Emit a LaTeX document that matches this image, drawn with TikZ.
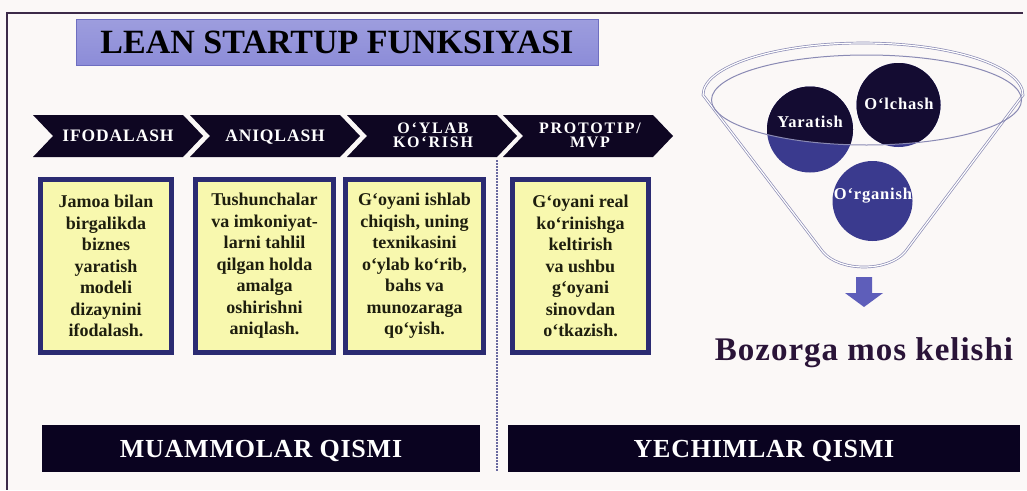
\documentclass[tikz,border=0pt]{standalone}
\usepackage{fontspec}
\setmainfont{Liberation Serif}
\newfontfamily\spcfont[LetterSpace=5]{Liberation Serif}
\newfontfamily\spcwide[LetterSpace=11]{Liberation Serif}
\newfontfamily\spcsmall[LetterSpace=3]{Liberation Serif}
\definecolor{bgcol}{HTML}{FBF8F7}
\definecolor{framecol}{HTML}{3C2A48}
\definecolor{titlefill}{HTML}{8C8CD8}
\definecolor{titledraw}{HTML}{6E6EC0}
\definecolor{chevcol}{HTML}{0E0622}
\definecolor{boxborder}{HTML}{2B2B72}
\definecolor{boxfill}{HTML}{F8F8AE}
\definecolor{boxtext}{HTML}{1E1E0E}
\definecolor{barcol}{HTML}{0A0320}
\definecolor{cdark}{HTML}{140C32}
\definecolor{cblue}{HTML}{3A3A8E}
\definecolor{funnelcol}{HTML}{8A8AB4}
\definecolor{arrowcol}{HTML}{5E5EBA}
\definecolor{bozcol}{HTML}{2A1438}
\definecolor{dotcol}{HTML}{6A6AA0}
\begin{document}
\begin{tikzpicture}[x=1pt,y=-1pt,
  chevshape/.style={fill=chevcol},
  chevtxt/.style={text=white, inner sep=0pt, font=\spcfont\bfseries\fontsize{17.5}{18}\selectfont, text height=11.6pt, text depth=0pt},
  chevtwo/.style={text=white, inner sep=0pt, align=center, font=\spcwide\bfseries\fontsize{16}{14.5}\selectfont},
  ybox/.style={draw=boxborder, line width=5pt, fill=boxfill, text=boxtext, align=center, inner sep=0pt,
     minimum height=173pt, font=\bfseries\fontsize{18}{21.5}\selectfont},
  bar/.style={fill=barcol, text=white, inner sep=0pt, minimum height=47pt,
     font=\spcsmall\bfseries\fontsize{26}{26}\selectfont, text height=17.2pt, text depth=0pt},
  funnel/.style={draw=funnelcol, line width=1pt},
  funnelrim/.style={draw=funnelcol, line width=0.7pt, double=white, double distance=1.2pt},
  clabel/.style={text=white, inner sep=0pt, font=\spcfont\bfseries\fontsize{16.5}{17}\selectfont},
  dotline/.style={draw=dotcol, line width=1.5pt, dash pattern=on 1.5pt off 1.5pt}
]
\useasboundingbox (0,0) rectangle (1027,490);
\fill[bgcol] (0,0) rectangle (1027,490);
% frame
\draw[framecol, line width=1.5pt] (1023,13) -- (7,13) -- (7,490);
% title
\node[top color=titlefill!85!white, bottom color=titlefill, draw=titledraw, line width=1pt, minimum width=522pt, minimum height=46pt, inner sep=0pt,
  font=\bfseries\fontsize{34}{34}\selectfont, text=black, text height=22.5pt, text depth=0pt] (title) at (337,42) {LEAN STARTUP FUNKSIYASI};
% chevrons
\foreach \L in {33,190,347,503}{
  \fill[chevshape] (\L,115) -- ({\L+150},115) -- ({\L+170},136) -- ({\L+150},157) -- (\L,157) -- ({\L+20},136) -- cycle;
}
\node[chevtxt] (c1) at (118,136) {IFODALASH};
\node[chevtxt] (c2) at (275,136) {ANIQLASH};
\node[chevtwo] (c3) at (433,135.5) {O‘YLAB\\KO‘RISH};
\node[chevtwo] (c4) at (590,135.5) {PROTOTIP/\\MVP};
% boxes
\node[ybox, minimum width=131pt] (b1) at (106,266) {Jamoa bilan\\birgalikda\\biznes\\yaratish\\modeli\\dizaynini\\ifodalash.};
\node[ybox, minimum width=138pt] (b2) at (264.5,266) {Tushunchalar\\va imkoniyat-\\larni tahlil\\qilgan holda\\amalga\\oshirishni\\aniqlash.};
\node[ybox, minimum width=138pt] (b3) at (414.5,266) {G‘oyani ishlab\\chiqish, uning\\texnikasini\\o‘ylab ko‘rib,\\bahs va\\munozaraga\\qo‘yish.};
\node[ybox, minimum width=136pt] (b4) at (580.5,266) {G‘oyani real\\ko‘rinishga\\keltirish\\va ushbu\\g‘oyani\\sinovdan\\o‘tkazish.};
% dotted divider
\coordinate (dtop) at (497,160);
\coordinate (dbot) at (497,472);
\draw[dotline] (dtop) -- (dbot);
% bottom bars
\node[bar, minimum width=438pt] (m) at (261,448.5) {MUAMMOLAR QISMI};
\node[bar, minimum width=512pt] (y) at (764,448.5) {YECHIMLAR QISMI};
% funnel
\draw[funnelrim] (703,95) arc[start angle=180,end angle=360,x radius=160,y radius=52] -- (905,252) .. controls (888,272) and (840,272) .. (823,252) -- cycle;
\fill[cblue] (810,129.5) circle[radius=43];
\fill[cblue] (898.5,105) circle[radius=42];
\begin{scope}
  \clip (866.5,100) ellipse[x radius=155,y radius=45];
  \fill[cdark] (810,129.5) circle[radius=43];
  \fill[cdark] (898.5,105) circle[radius=42];
\end{scope}
\fill[cblue] (872.5,201) circle[radius=40];
\draw[funnel] (866.5,100) ellipse[x radius=155,y radius=45];
\node[clabel] (yar) at (810,122) {Yaratish};
\node[clabel] (olc) at (899,104) {O‘lchash};
\node[clabel] (org) at (873,196) {O‘rganish};
% arrow
\fill[arrowcol] (856,277) -- (872,277) -- (872,293) -- (883,293) -- (864,307) -- (845,293) -- (856,293) -- cycle;
\node[anchor=base, inner sep=0pt, text=bozcol, font=\spcsmall\bfseries\fontsize{33}{33}\selectfont] (boz) at (864,360) {Bozorga mos kelishi};
\end{tikzpicture}
\end{document}
